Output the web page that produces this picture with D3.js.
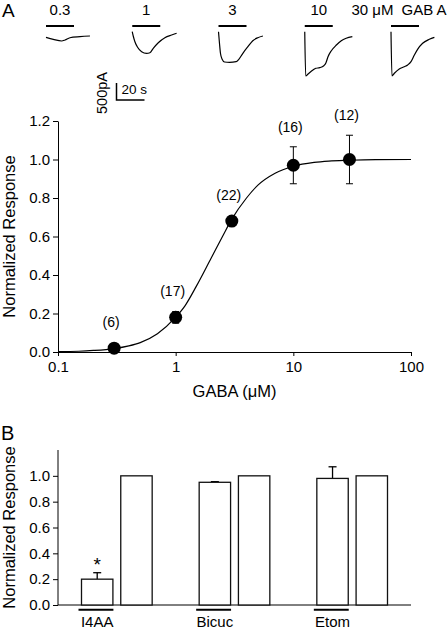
<!DOCTYPE html>
<html><head><meta charset="utf-8">
<script src="https://cdn.jsdelivr.net/npm/d3@7"></script>
<style>body{margin:0;background:#fff}svg{display:block;font-family:"Liberation Sans",Arial,Helvetica,sans-serif}</style>
</head><body><svg id="c" width="448" height="629"></svg>
<script>
// ---------- DATA ----------
// Panel A inset: current traces (time s, current pA)
const traceLabels = ["0.3", "1", "3", "10", "30 μM"];
const traceNames = ["0.3", "1", "3", "10", "30"];
const trace03 = [[0,-165],[5.2,-224],[11.2,-274],[13.6,-244],[17.1,-177],[24.3,-147],[31.4,-127]];
const trace1 = [[0,0],[0.7,-126],[1.9,-294],[3.8,-459],[6.7,-588],[10.2,-635],[12.6,-618],[15,-488],[18.6,-324],[23.3,-176],[28.1,-97],[31.7,-47]];
const trace3 = [[0,0],[0.7,-341],[1.4,-635],[2.6,-812],[4.3,-891],[7.9,-900],[12.6,-882],[14.5,-812],[17.4,-635],[21,-441],[24.5,-265],[28.1,-176],[31.7,-126]];
const trace10 = [[0,0],[0.7,-1303],[2.4,-1244],[5.9,-1126],[7.9,-1076],[10.7,-1058],[13.6,-1000],[15,-929],[16.6,-735],[19,-559],[22.6,-391],[26.1,-265],[29.6,-194],[34,-147]];
const trace30 = [[0,0],[0.7,-1303],[2.4,-1223],[5.9,-1097],[9.5,-1029],[11.9,-979],[14.3,-882],[16.7,-685],[19,-518],[22.6,-341],[27.4,-224],[31,-165]];
const applicationDuration = 20; // s
const scaleBarTime = 20;   // s
const scaleBarCurrent = 500; // pA

// Panel A: dose response
const concentrations = [0.3, 1, 3, 10, 30];
const responses = [0.02, 0.18, 0.68, 0.97, 1.0];
const responseErr = [0.005, 0.03, 0.01, 0.096, 0.126];
const nCells = [6, 17, 22, 16, 12];
const fitX = [0.1,0.15,0.2,0.3,0.4,0.5,0.7,1,1.2,1.5,2,2.5,3,4,5,7,10,15,20,30,50,100];
const fitY = [0.002,0.004,0.008,0.018,0.032,0.049,0.095,0.181,0.24,0.342,0.487,0.6,0.69,0.8,0.867,0.929,0.965,0.985,0.992,0.996,0.999,1.0];
const xTicksA = [0.1, 1, 10, 100];
const yTicksA = [0, 0.2, 0.4, 0.6, 0.8, 1.0, 1.2];

// Panel B: bars
const groups = ["I4AA", "Bicuc", "Etom"];
const drugValues = [0.20, 0.95, 0.98];
const drugErr = [0.05, 0.005, 0.09];
const controlValues = [1.0, 1.0, 1.0];
const controlErr = [0, 0, 0];
const significant = [true, false, false];
const yTicksB = [0, 0.2, 0.4, 0.6, 0.8, 1.0];

// ---------- DRAW ----------
const svg = d3.select("#c");
const black = "#000";

// Panel letters
svg.append("text").attr("x", 2).attr("y", 17).attr("font-size", 19).text("A");
svg.append("text").attr("x", 1).attr("y", 440).attr("font-size", 20).text("B");

// ----- Traces -----
const traces = [trace03, trace1, trace3, trace10, trace30];
const traceCol = d3.scalePoint().domain(traceNames).range([46, 391]);
const tScale = d3.scaleLinear().domain([0, 20]).range([0, 28]);
const iScale = d3.scaleLinear().domain([0, -500]).range([0, 17]);
const traceBase = 31.7, barY = 26;
const tLine = d3.line().x(d => tScale(d[0])).y(d => iScale(d[1])).curve(d3.curveMonotoneX);

traces.forEach((tr, i) => {
  const g = svg.append("g").attr("transform", `translate(${traceCol(traceNames[i])},${traceBase})`);
  g.append("path").attr("d", tLine(tr)).attr("fill", "none").attr("stroke", black).attr("stroke-width", 1.2);
  g.append("line").attr("x1", tScale(0)).attr("x2", tScale(applicationDuration))
    .attr("y1", barY - traceBase).attr("y2", barY - traceBase).attr("stroke", black).attr("stroke-width", 2);
  const cx = traceCol(traceNames[i]) + tScale(applicationDuration) / 2;
  if (i < traces.length - 1) {
    svg.append("text").attr("x", cx).attr("y", 15).attr("text-anchor", "middle").attr("font-size", 15).text(traceLabels[i]);
  } else {
    svg.append("text").attr("x", 393.5).attr("y", 15).attr("text-anchor", "end").attr("font-size", 15).text(traceLabels[i]);
    svg.append("text").attr("x", 401.5).attr("y", 15).attr("text-anchor", "start").attr("font-size", 15).text("GAB A");
  }
});

// Scale bar
const sbX = 116.5, sbY = 100;
svg.append("path")
  .attr("d", `M${sbX},${sbY - iScale(-scaleBarCurrent)}V${sbY}H${sbX + tScale(scaleBarTime)}`)
  .attr("fill", "none").attr("stroke", black).attr("stroke-width", 1.5);
svg.append("text").attr("x", 121.5).attr("y", 93.5).attr("font-size", 13.5).text("20 s");
svg.append("text").attr("transform", "translate(107,93) rotate(-90)").attr("text-anchor", "middle")
  .attr("font-size", 14.5).text("500pA");

// ----- Panel A dose-response -----
const xA = d3.scaleLog().domain([0.1, 100]).range([58, 411]);
const yA = d3.scaleLinear().domain([0, 1.2]).range([352, 121]);

const axA_y = svg.append("g").attr("transform", "translate(58,0)")
  .call(d3.axisLeft(yA).tickValues(yTicksA).tickFormat(d3.format(".1f")).tickSize(5).tickPadding(3).tickSizeOuter(0));
const axA_x = svg.append("g").attr("transform", "translate(0,352)")
  .call(d3.axisBottom(xA).tickValues(xTicksA).tickFormat(d => String(d)).tickSize(4).tickPadding(5).tickSizeOuter(0));
[axA_y, axA_x].forEach(a => {
  a.selectAll("text").attr("font-size", 15).attr("font-family", "Liberation Sans, Arial, sans-serif").attr("fill", black);
  a.selectAll("path,line").attr("stroke", black);
});
svg.append("text").attr("x", 234.5).attr("y", 397).attr("text-anchor", "middle").attr("font-size", 16.5).text("GABA (μM)");
svg.append("text").attr("transform", `translate(15,${(121 + 352) / 2}) rotate(-90)`).attr("text-anchor", "middle")
  .attr("font-size", 16.5).text("Normalized Response");

// fit curve
const fitLine = d3.line().x((d, i) => xA(fitX[i])).y(d => yA(d)).curve(d3.curveMonotoneX);
svg.append("path").attr("d", fitLine(fitY)).attr("fill", "none").attr("stroke", black).attr("stroke-width", 1.2);

// error bars + points + labels
concentrations.forEach((c, i) => {
  const x = xA(c), y = yA(responses[i]);
  const yt = yA(responses[i] + responseErr[i]), yb = yA(responses[i] - responseErr[i]);
  svg.append("line").attr("x1", x).attr("x2", x).attr("y1", yt).attr("y2", yb).attr("stroke", black).attr("stroke-width", 1);
  [yt, yb].forEach(yy => svg.append("line").attr("x1", x - 3.5).attr("x2", x + 3.5).attr("y1", yy).attr("y2", yy).attr("stroke", black).attr("stroke-width", 1));
  svg.append("circle").attr("cx", x).attr("cy", y).attr("r", 6.5).attr("fill", black);
  const top = Math.min(y - 6.5, yt);
  svg.append("text").attr("x", x - 3).attr("y", top - 15).attr("text-anchor", "middle").attr("font-size", 14)
    .text(`(${nCells[i]})`);
});

// ----- Panel B bars -----
const xB = d3.scaleBand().domain(groups).range([58, 411]).padding(0);
const xSub = d3.scaleBand().domain(["drug", "ctrl"]).range([23.5, xB.bandwidth() - 23.5]).paddingInner(0.2).paddingOuter(0);
const yB = d3.scaleLinear().domain([0, 1.2]).range([605, 450]);

const axB_y = svg.append("g").attr("transform", "translate(58,0)")
  .call(d3.axisLeft(yB).tickValues(yTicksB).tickFormat(d3.format(".1f")).tickSize(5).tickPadding(3).tickSizeOuter(0));
axB_y.select(".domain").attr("d", `M0,${yB(1.2)}V${yB(0)}`);
axB_y.selectAll("text").attr("font-size", 15).attr("font-family", "Liberation Sans, Arial, sans-serif").attr("fill", black);
axB_y.selectAll("path,line").attr("stroke", black);
svg.append("line").attr("x1", 58).attr("x2", 411).attr("y1", yB(0)).attr("y2", yB(0)).attr("stroke", black).attr("stroke-width", 1);
svg.append("text").attr("transform", `translate(15,${(450 + 605) / 2}) rotate(-90)`).attr("text-anchor", "middle")
  .attr("font-size", 16.5).text("Normalized Response");

groups.forEach((gname, i) => {
  const gx = xB(gname);
  const bars = [
    { key: "drug", v: drugValues[i], e: drugErr[i] },
    { key: "ctrl", v: controlValues[i], e: controlErr[i] }
  ];
  bars.forEach(b => {
    const bx = gx + xSub(b.key), bw = xSub.bandwidth();
    if (b.e > 0) {
      const cx = bx + bw / 2;
      svg.append("line").attr("x1", cx).attr("x2", cx).attr("y1", yB(b.v)).attr("y2", yB(b.v + b.e)).attr("stroke", black).attr("stroke-width", 1.3);
      svg.append("line").attr("x1", cx - 4).attr("x2", cx + 4).attr("y1", yB(b.v + b.e)).attr("y2", yB(b.v + b.e)).attr("stroke", black).attr("stroke-width", 1.3);
    }
    svg.append("rect").attr("x", bx).attr("y", yB(b.v)).attr("width", bw).attr("height", yB(0) - yB(b.v))
      .attr("fill", "#fff").attr("stroke", "#111").attr("stroke-width", 1.3);
  });
  const dx = gx + xSub("drug"), bw = xSub.bandwidth();
  if (significant[i]) {
    svg.append("text").attr("x", dx + bw / 2).attr("y", yB(drugValues[i] + drugErr[i]) - 2)
      .attr("text-anchor", "middle").attr("font-size", 19).text("*");
  }
  svg.append("line").attr("x1", dx - 3).attr("x2", dx + bw + 0.5).attr("y1", 609.7).attr("y2", 609.7)
    .attr("stroke", black).attr("stroke-width", 2);
  svg.append("text").attr("x", dx + bw / 2).attr("y", 627).attr("text-anchor", "middle").attr("font-size", 15).text(gname);
});
</script>
</body></html>
